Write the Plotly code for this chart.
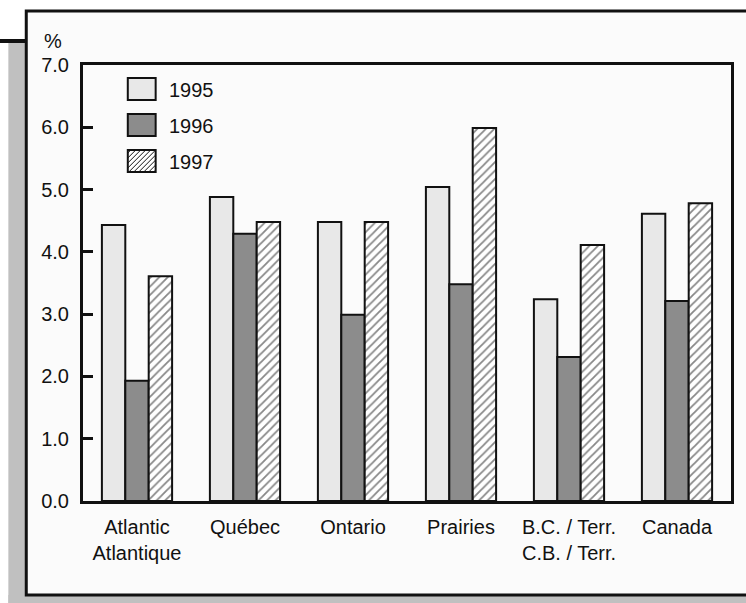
import plotly.graph_objects as go

regions = ["Atlantic<br>Atlantique", "Québec", "Ontario", "Prairies",
           "B.C. / Terr.<br>C.B. / Terr.", "Canada"]
years = ["1995", "1996", "1997"]
v1995 = [4.43, 4.88, 4.48, 5.04, 3.24, 4.61]
v1996 = [1.93, 4.29, 2.99, 3.48, 2.31, 3.21]
v1997 = [3.61, 4.48, 4.48, 5.99, 4.11, 4.78]
y_ticks = [0, 1, 2, 3, 4, 5, 6, 7]

W, H = 746, 603
L, R, T, B = 83, 734, 65, 501   # plot area in pixels


def px(x):
    return (x - L) / (R - L)


def py(y):
    return (B - y) / (B - T)


FONT = "Liberation Sans, Arial, sans-serif"
FS = 20
EDGE = "#111"
FILLS = ["#e8e8e8", "#8c8c8c", "white"]

fig = go.Figure()
for name, vals, fill in zip(years, [v1995, v1996, v1997], FILLS):
    marker = dict(color=fill, line=dict(color=EDGE, width=2))
    if name == "1997":
        marker["pattern"] = dict(shape="/", fgcolor=EDGE, bgcolor="white",
                                 size=6, solidity=0.3)
    fig.add_trace(go.Bar(x=regions, y=vals, name=name, marker=marker,
                         showlegend=False))

shapes = [
    # grey shadow
    dict(type="rect", xref="paper", yref="paper", layer="below",
         x0=px(8), x1=px(26), y0=py(41), y1=py(603),
         fillcolor="#c0c0c0", line=dict(width=0)),
    dict(type="rect", xref="paper", yref="paper", layer="below",
         x0=px(8), x1=px(750), y0=py(595), y1=py(603),
         fillcolor="#c0c0c0", line=dict(width=0)),
    # outer panel
    dict(type="rect", xref="paper", yref="paper", layer="below",
         x0=px(26), x1=px(752), y0=py(11), y1=py(595),
         fillcolor="#fbfbfb", line=dict(color=EDGE, width=3)),
    # black rule at top-left
    dict(type="line", xref="paper", yref="paper",
         x0=px(-2), x1=px(26), y0=py(41), y1=py(41),
         line=dict(color=EDGE, width=4)),
]

# legend drawn by hand so the swatches are as large as in the original
annotations = [dict(text="%", xref="paper", yref="paper",
                    x=px(53), y=py(41), showarrow=False,
                    xanchor="center", yanchor="middle", font=dict(size=FS))]
sx0, sx1, sh = 128, 156, 22
for i, (name, fill) in enumerate(zip(years, FILLS)):
    top = 78 + i * 36
    shapes.append(dict(type="rect", xref="paper", yref="paper",
                       x0=px(sx0), x1=px(sx1), y0=py(top), y1=py(top + sh),
                       fillcolor=fill, line=dict(color=EDGE, width=2)))
    if name == "1997":
        segs = []
        for c in range(-sh + 3, sx1 - sx0, 5):
            # line of slope +1 (going up to the right), clipped to the box
            xa, ya = sx0 + c, top + sh
            xb, yb = xa + sh, top
            if xa < sx0:
                ya -= sx0 - xa
                xa = sx0
            if xb > sx1:
                yb += xb - sx1
                xb = sx1
            segs.append(f"M{px(xa)},{py(ya)}L{px(xb)},{py(yb)}")
        shapes.append(dict(type="path", xref="paper", yref="paper",
                           path="".join(segs), line=dict(color=EDGE, width=1)))
    annotations.append(dict(text=name, xref="paper", yref="paper",
                            x=px(167), y=py(top + sh / 2 + 1), showarrow=False,
                            xanchor="left", yanchor="middle",
                            font=dict(size=FS)))

fig.update_layout(
    width=W, height=H,
    margin=dict(l=L, r=W - R, t=T, b=H - B, pad=0),
    paper_bgcolor="white",
    plot_bgcolor="white",
    font=dict(family=FONT, size=FS, color=EDGE),
    barmode="group", bargap=0.35, bargroupgap=0,
    shapes=shapes,
    annotations=annotations,
    showlegend=False,
    xaxis=dict(showline=True, mirror=True, linecolor=EDGE, linewidth=3,
               ticks="", tickfont=dict(size=FS), showgrid=False,
               ticklabelstandoff=6),
    yaxis=dict(range=[0, 7], tickvals=y_ticks,
               ticktext=[f"{v:.1f}" for v in y_ticks],
               showline=True, mirror=True, linecolor=EDGE, linewidth=3,
               ticks="inside", ticklen=10, tickwidth=3, tickcolor=EDGE,
               ticklabelstandoff=7, showgrid=False, zeroline=False),
)

fig.write_html("out.html", config={"displayModeBar": False},
               post_script="document.body.style.margin='0';")
